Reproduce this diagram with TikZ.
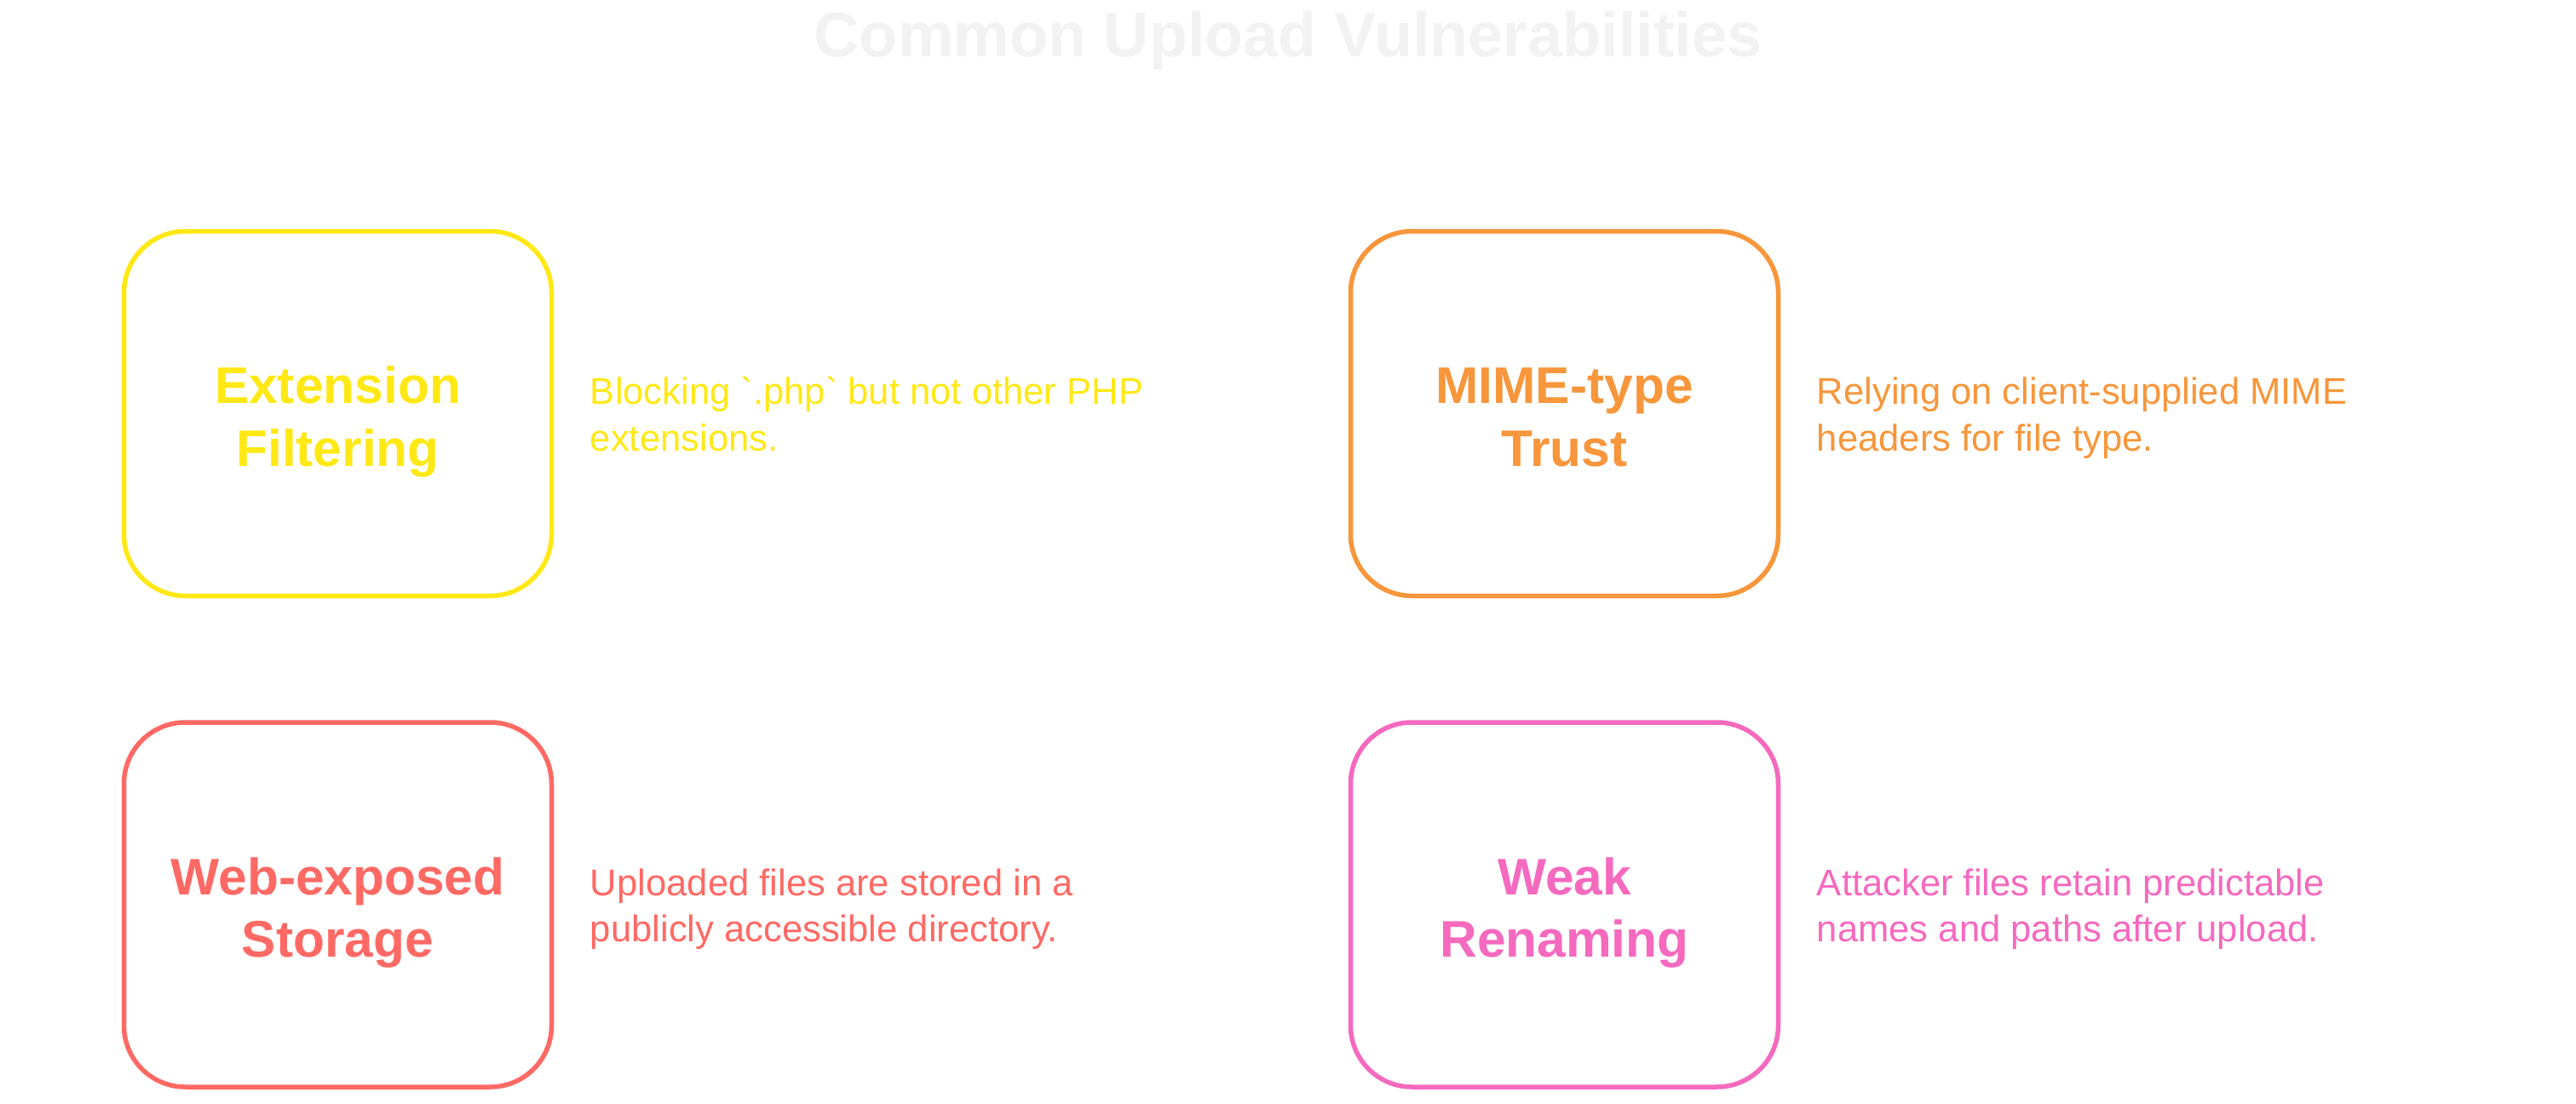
\documentclass[tikz,border=0pt]{standalone}
\usepackage{fontspec}
\setmainfont{Liberation Sans}
\usepackage{tikz}
\usetikzlibrary{positioning}
\definecolor{extyellow}{HTML}{FFE814}
\definecolor{mimeorange}{HTML}{F7963B}
\definecolor{webcoral}{HTML}{FF6964}
\definecolor{weakpink}{HTML}{F569BE}
\definecolor{titlegray}{HTML}{F2F2F2}
\begin{document}
\begin{tikzpicture}[
  card/.style={rectangle,rounded corners=0.72cm,minimum width=5.02cm,minimum height=4.28cm,
    line width=0.055cm,align=center,text height=1.23cm,text depth=0pt,
    font=\fontsize{17.2}{20.8}\selectfont\bfseries},
  note/.style={right=0.42cm of #1,inner sep=0pt,align=left,text height=0.87cm,text depth=0pt,
    font=\fontsize{12.4}{15.4}\selectfont},
]
  \useasboundingbox (0,0) rectangle (30.24,-12.96);
  \node[anchor=base,text=titlegray,font=\fontsize{21}{25}\selectfont\bfseries] (title) at (15.12,-0.66)
    {Common Upload Vulnerabilities};
  \node[card,draw=extyellow,text=extyellow] (ext) at (3.965,-4.855) {Extension\\Filtering};
  \node[note=ext,text=extyellow] (extnote)
    {Blocking \textasciigrave.php\textasciigrave{} but not other PHP\\extensions.};
  \node[card,draw=mimeorange,text=mimeorange] (mime) at (18.365,-4.855) {MIME-type\\Trust};
  \node[note=mime,text=mimeorange] (mimenote) {Relying on client-supplied MIME\\headers for file type.};
  \node[card,draw=webcoral,text=webcoral] (web) at (3.965,-10.62) {Web-exposed\\Storage};
  \node[note=web,text=webcoral] (webnote) {Uploaded files are stored in a\\publicly accessible directory.};
  \node[card,draw=weakpink,text=weakpink] (weak) at (18.365,-10.62) {Weak\\Renaming};
  \node[note=weak,text=weakpink] (weaknote) {Attacker files retain predictable\\names and paths after upload.};
\end{tikzpicture}
\end{document}
